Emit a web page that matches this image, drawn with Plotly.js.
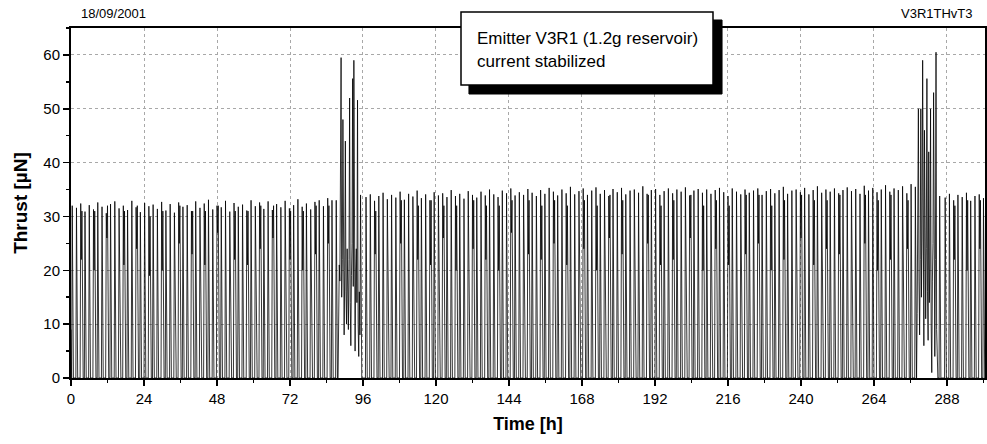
<!DOCTYPE html>
<html>
<head>
<meta charset="utf-8">
<script src="https://cdn.plot.ly/plotly-3.0.1.min.js"></script>
<style>
  html, body { margin: 0; padding: 0; background: #fff; }
  #chart { width: 987px; height: 444px; }
</style>
</head>
<body>
<div id="chart"></div>
<script>
// ---------------- DATA ----------------
// Thrust [µN] record, sampled every SAMPLE_STEP_H hours from t = 0 h.
// Between pulses the thrust sits at the BASELINE value.
const SAMPLE_STEP_H = 0.2;
const BASELINE = 0;
const startValues = [9];

// regular pulses: peak value, sample after the peak (falling edge / dip), and the
// second peak of a double pulse (0 = single pulse)
const peaksEarly = [
  32.0, 31.6, 32.4, 30.9, 32.1, 31.3, 32.6, 31.8, 30.6, 32.3,
  32.8, 31.5, 32.0, 31.2, 32.9, 31.7, 30.8, 32.5, 31.9, 32.2,
  31.4, 32.7, 31.1, 32.3, 30.7, 32.6, 31.8, 32.1, 31.0, 32.8,
  31.6, 32.4, 33.1, 31.3, 32.0, 31.7, 32.9, 30.9, 32.5, 31.8,
  32.2, 31.1, 33.0, 31.9, 32.6, 31.4, 32.8, 31.2, 32.3, 31.7,
  32.9, 31.5, 32.1, 33.2, 31.8, 32.4, 31.3, 32.7, 33.0, 31.9, 33.4, 33.0
];
const fallEarly = [
  0, 4, 22, 8, 12, 20, 0, 2, 26, 6,
  11, 16, 21, 0, 3, 24, 9, 14, 19, 0,
  2, 20, 7, 12, 17, 25, 0, 4, 23, 10,
  15, 21, 0, 3, 27, 8, 13, 18, 22, 0,
  5, 21, 9, 14, 24, 0, 2, 26, 7, 12,
  17, 22, 0, 4, 20, 10, 15, 23, 0, 3, 25, 8
];
const secondEarly = [
  0, 0, 31, 0, 0, 31, 0, 0, 32, 0,
  0, 0, 31, 0, 0, 32, 0, 0, 30, 0,
  0, 31, 0, 0, 0, 32, 0, 0, 31, 0,
  0, 31, 0, 0, 32, 0, 0, 0, 31, 0,
  0, 31, 0, 0, 32, 0, 0, 32, 0, 0,
  0, 31, 0, 0, 31, 0, 0, 32, 0, 0, 32, 0
];

// first high-thrust episode (~87-97 h), raw samples
const spike1Samples = [
  0, 33, 14, 0, 0, 8, 21, 18, 35, 59.5,
  15, 22, 48, 12, 8, 20, 44, 16, 10, 24,
  18, 9, 22, 52, 14, 6, 19, 25, 55.6, 17,
  59, 12, 5, 20, 24, 14, 51.6, 10, 4, 16,
  8, 34, 3, 0, 0, 0, 0, 0, 0
];

const peaksMid = [
  33.6, 34.1, 32.9, 33.8, 34.4, 33.2, 34.0, 33.5, 34.6, 33.1,
  34.2, 33.7, 34.8, 33.4, 34.1, 33.0, 34.5, 33.9, 34.3, 33.6,
  34.9, 33.8, 34.2, 33.3, 34.7, 34.0, 33.5, 34.6, 33.9, 35.0,
  34.1, 33.6, 34.8, 34.3, 35.2, 33.9, 34.5, 34.0, 35.1, 34.4,
  33.8, 34.9, 34.2, 35.3, 34.6, 33.9, 35.0, 34.3, 35.5, 34.1,
  34.7, 35.2, 34.0, 34.8, 35.4, 34.2, 34.9, 33.8, 35.1, 34.5,
  35.3, 34.1, 34.8, 35.0, 34.4, 35.6, 34.2, 34.9, 35.1, 34.0,
  34.7, 35.2, 34.3, 35.0, 34.6, 35.4, 33.9, 34.8, 35.1, 34.4,
  35.0, 34.2, 34.9, 35.3, 34.5, 33.8, 35.2, 34.6, 34.1, 35.0,
  34.4, 34.8, 35.2, 34.0, 34.7, 35.1, 34.3, 34.9, 35.5, 34.2,
  34.8, 35.0, 34.5, 35.3, 34.1, 34.9, 35.6, 34.4, 35.0, 34.6,
  35.2, 34.3, 34.9, 35.4, 34.7, 35.1, 34.2, 35.7, 34.8, 35.3,
  34.5, 35.0, 35.8, 34.6, 35.2, 34.9, 35.6, 34.3, 36.0
];
const fallMid = [
  0, 3, 23, 8, 13, 19, 0, 2, 25, 7,
  12, 17, 22, 0, 4, 21, 9, 15, 26, 0,
  3, 20, 8, 13, 18, 24, 0, 5, 22, 10,
  14, 20, 0, 2, 27, 7, 12, 17, 23, 0,
  4, 22, 9, 15, 25, 0, 3, 21, 8, 13,
  18, 24, 0, 5, 20, 11, 16, 26, 0, 2,
  23, 7, 12, 19, 0, 4, 25, 9, 14, 21,
  0, 3, 22, 8, 13, 18, 26, 0, 5, 20,
  10, 15, 24, 0, 2, 21, 7, 12, 17, 23,
  0, 4, 25, 9, 14, 20, 0, 3, 22, 8,
  13, 19, 26, 0, 5, 21, 10, 16, 24, 0,
  2, 23, 7, 12, 18, 0, 4, 25, 9, 14,
  20, 0, 3, 22, 8, 13, 19, 24, 0
];
const secondMid = [
  0, 0, 31, 0, 0, 0, 0, 0, 33, 0,
  0, 0, 32, 0, 0, 33, 0, 0, 32, 0,
  0, 32, 0, 0, 0, 33, 0, 0, 32, 0,
  0, 32, 0, 0, 33, 0, 0, 0, 33, 0,
  0, 32, 0, 0, 33, 0, 0, 32, 0, 0,
  0, 33, 0, 0, 32, 0, 0, 34, 0, 0,
  33, 0, 0, 0, 0, 0, 34, 0, 0, 32,
  0, 0, 33, 0, 0, 0, 34, 0, 0, 32,
  0, 0, 33, 0, 0, 32, 0, 0, 0, 34,
  0, 0, 34, 0, 0, 32, 0, 0, 33, 0,
  0, 0, 34, 0, 0, 33, 0, 0, 33, 0,
  0, 34, 0, 0, 0, 0, 0, 34, 0, 0,
  33, 0, 0, 34, 0, 0, 0, 33, 0
];

// second high-thrust episode (~277-287 h), raw samples
const spike2Samples = [
  0, 35.5, 10, 0, 12, 24, 50, 18, 8, 22,
  50, 15, 26, 59, 13, 6, 46, 20, 11, 24,
  55.6, 16, 7, 42, 14, 21, 50, 10, 1, 18,
  25, 53, 12, 4, 22, 60.5, 9, 0, 0, 0,
  0, 33.8, 0, 0, 0, 0, 0, 0, 0
];

const peaksLate = [33.5, 34.2, 33.0, 34.0, 33.6, 34.4, 32.9, 33.8, 34.1, 33.4];
const fallLate = [0, 4, 22, 9, 14, 20, 0, 3, 24, 8];
const secondLate = [0, 0, 32, 0, 0, 33, 0, 0, 33, 0];

// axis tick labels
const xTickVals = [0, 24, 48, 72, 96, 120, 144, 168, 192, 216, 240, 264, 288];
const yTickVals = [0, 10, 20, 30, 40, 50, 60];

// ---------------- BUILD SERIES ----------------
const thrust = startValues.slice();
function pushPulses(peaks, falls, seconds) {
  const n = Math.min(peaks.length, falls.length, seconds.length);
  for (let i = 0; i < n; i++) {
    thrust.push(BASELINE, peaks[i], falls[i], seconds[i], BASELINE, BASELINE, BASELINE);
  }
}
pushPulses(peaksEarly, fallEarly, secondEarly);
spike1Samples.forEach(v => thrust.push(v));
pushPulses(peaksMid, fallMid, secondMid);
spike2Samples.forEach(v => thrust.push(v));
pushPulses(peaksLate, fallLate, secondLate);

const FONT = 'Liberation Sans, Arial, Helvetica, sans-serif';

const trace = {
  type: 'scatter',
  mode: 'lines',
  y: thrust,
  x0: 0,
  dx: SAMPLE_STEP_H,
  line: { color: '#000', width: 0.8 },
  hoverinfo: 'skip'
};

const axisCommon = {
  tickmode: 'array',
  ticks: 'outside', ticklen: 6, tickwidth: 1.5, tickcolor: '#000',
  showline: true, linewidth: 2, linecolor: '#000', mirror: true,
  showgrid: true, gridcolor: '#a8a8a8', griddash: 'dot', gridwidth: 1,
  zeroline: false,
  tickfont: { family: FONT, size: 15, color: '#000' }
};

const layout = {
  width: 987,
  height: 444,
  margin: { l: 71, r: 2, t: 28, b: 66 },
  paper_bgcolor: '#fff',
  plot_bgcolor: '#fff',
  showlegend: false,
  font: { family: FONT, size: 15, color: '#000' },
  xaxis: Object.assign({}, axisCommon, {
    range: [0, 300.5],
    tickvals: xTickVals,
    ticktext: xTickVals.map(String),
    minor: { dtick: 12, tick0: 0, ticks: 'outside', ticklen: 3, tickwidth: 1.5, tickcolor: '#000', showgrid: false },
    title: { text: '<b>Time [h]</b>', font: { family: FONT, size: 18, color: '#000' }, standoff: 11 }
  }),
  yaxis: Object.assign({}, axisCommon, {
    range: [0, 65],
    tickvals: yTickVals,
    ticktext: yTickVals.map(String),
    minor: { dtick: 5, tick0: 0, ticks: 'outside', ticklen: 3, tickwidth: 1.5, tickcolor: '#000', showgrid: false },
    title: { text: '<b>Thrust [µN]</b>', font: { family: FONT, size: 19, color: '#000' }, standoff: 11 }
  }),
  shapes: [
    { type: 'rect', xref: 'paper', yref: 'paper', layer: 'above',
      x0: 0.4354, x1: 0.7123, y0: 0.8114, y1: 1.0229,
      fillcolor: '#000', line: { color: '#000', width: 1 } },
    { type: 'rect', xref: 'paper', yref: 'paper', layer: 'above',
      x0: 0.4267, x1: 0.7024, y0: 0.8371, y1: 1.0457,
      fillcolor: '#fff', line: { color: '#000', width: 1.5 } }
  ],
  annotations: [
    { xref: 'paper', yref: 'paper', x: 0.4425, y: 0.9714, xanchor: 'left', yanchor: 'middle',
      text: 'Emitter V3R1 (1.2g reservoir)', showarrow: false,
      font: { family: FONT, size: 17, color: '#000' } },
    { xref: 'paper', yref: 'paper', x: 0.4425, y: 0.9057, xanchor: 'left', yanchor: 'middle',
      text: 'current stabilized', showarrow: false,
      font: { family: FONT, size: 17, color: '#000' } },
    { xref: 'paper', yref: 'paper', x: 0.0088, y: 1.04, xanchor: 'left', yanchor: 'middle',
      text: '18/09/2001', showarrow: false,
      font: { family: FONT, size: 13, color: '#000' } },
    { xref: 'paper', yref: 'paper', x: 0.989, y: 1.04, xanchor: 'right', yanchor: 'middle',
      text: 'V3R1THvT3', showarrow: false,
      font: { family: FONT, size: 13, color: '#000' } }
  ]
};

Plotly.newPlot('chart', [trace], layout, { displayModeBar: false, staticPlot: true });
</script>
</body>
</html>
